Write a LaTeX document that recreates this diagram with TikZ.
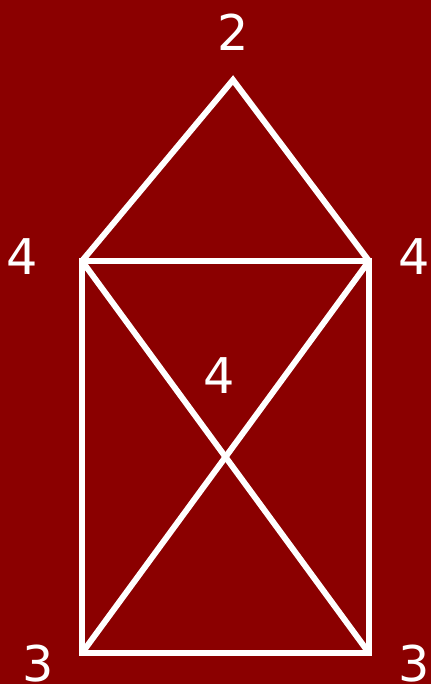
\documentclass[tikz,border=0pt]{standalone}
\usepackage{fontspec}
\setmainfont{DejaVu Sans}
\definecolor{HouseRed}{RGB}{139,0,0}
\usetikzlibrary{positioning}
\begin{document}
\begin{tikzpicture}[x=0.01cm, y=-0.01cm,
    edge/.style={draw=white, line width=1.7pt, line join=miter},
    deg/.style={text=white, font=\fontsize{14}{16}\selectfont, inner sep=0pt}
]
    \fill[HouseRed] (0,0) rectangle (431,684);
    \useasboundingbox (0,0) rectangle (431,684);
    % vertices
    \coordinate (top) at (233,80);
    \coordinate (ml)  at (82,261);
    \coordinate (mr)  at (369,261);
    \coordinate (bl)  at (82,653);
    \coordinate (br)  at (369,653);
    \coordinate (mid) at (intersection of ml--br and mr--bl);
    % edges
    \draw[edge] (ml) -- (top) -- (mr);
    \draw[edge] (ml) -- (mr) -- (br) -- (bl) -- cycle;
    \draw[edge] (ml) -- (mid) -- (br);
    \draw[edge] (mr) -- (mid) -- (bl);
    % degrees
    \node[deg] (dtop) at (233,32)  {2};
    \node[deg] (dml)  at (22,257)  {4};
    \node[deg] (dmr)  at (414,257) {4};
    \node[deg] (dmid) at (219,376) {4};
    \node[deg] (dbl)  at (38,664)  {3};
    \node[deg] (dbr)  at (414,664) {3};
\end{tikzpicture}
\end{document}
